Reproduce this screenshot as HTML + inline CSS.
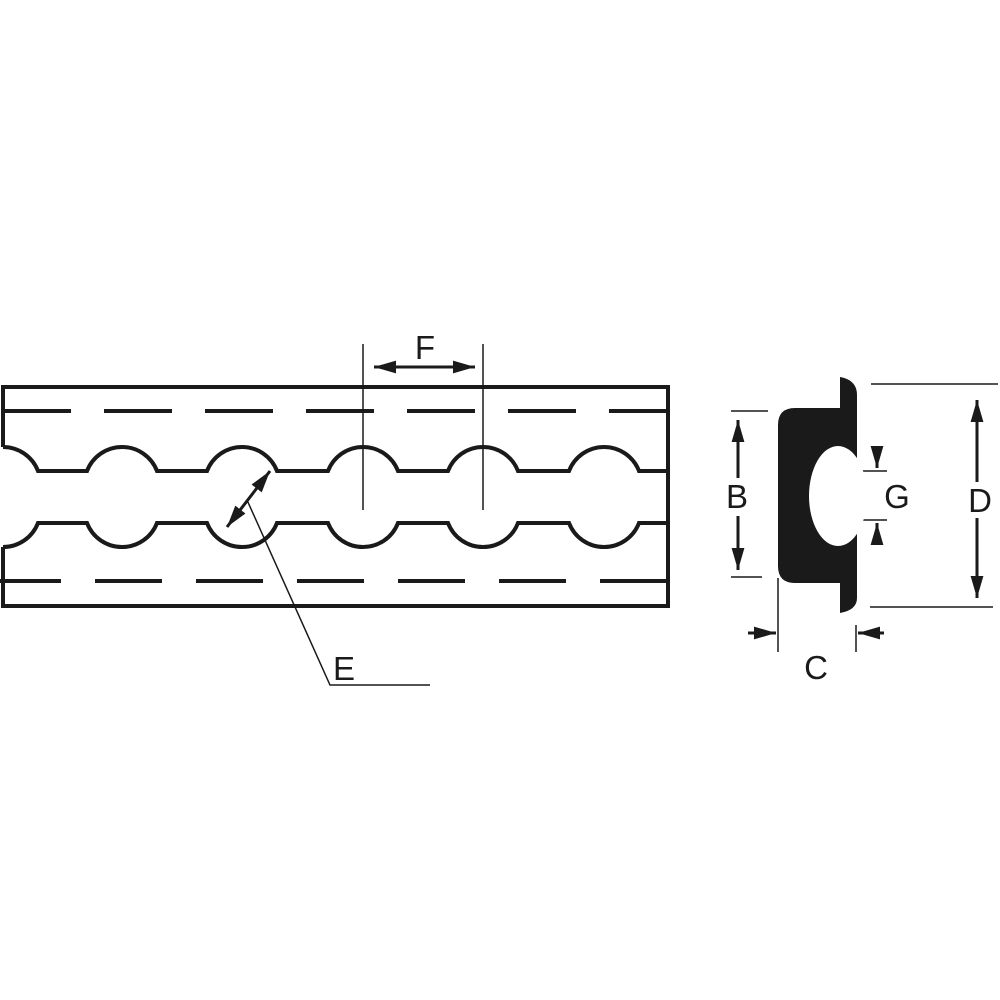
<!DOCTYPE html>
<html><head><style>body{margin:0;background:#fff}svg{display:block}</style></head><body>
<svg width="1000" height="1000" viewBox="0 0 1000 1000" xmlns="http://www.w3.org/2000/svg">
<defs>
<marker id="a" viewBox="0 0 24 14" refX="24" refY="7" markerWidth="22" markerHeight="13" orient="auto-start-reverse" markerUnits="userSpaceOnUse"><path d="M0,0 L24,7 L0,14 z" fill="#1a1a1a"/></marker>
<marker id="s" viewBox="0 0 24 14" refX="24" refY="7" markerWidth="22" markerHeight="15" orient="auto-start-reverse" markerUnits="userSpaceOnUse"><path d="M0,0 L24,7 L0,14 z" fill="#1a1a1a"/></marker>
</defs>
<g fill="none" stroke="#1a1a1a" stroke-width="4">
<path d="M3,447 V387 H668 V606 H3 V547"/>
<path d="M3,447 A37.5,37.5 0 0 1 38,471 H87 A37.5,37.5 0 0 1 157,471 H207 A37.5,37.5 0 0 1 277,471 H328 A37.5,37.5 0 0 1 398,471 H448 A37.5,37.5 0 0 1 518,471 H569 A37.5,37.5 0 0 1 639,471 H668"/>
<path d="M3,523 A37.5,37.5 0 0 0 38,499 H87 A37.5,37.5 0 0 0 157,499 H207 A37.5,37.5 0 0 0 277,499 H328 A37.5,37.5 0 0 0 398,499 H448 A37.5,37.5 0 0 0 518,499 H569 A37.5,37.5 0 0 0 639,499 H668" transform="translate(0,24)"/>
<path d="M3,411 H668" stroke-dasharray="68 33"/>
<path d="M-6,581 H668" stroke-dasharray="67 34"/>
</g>
<g stroke="#1a1a1a" stroke-width="1.5" fill="none">
<path d="M363,344 V510 M483,344 V510"/>
<path d="M247,500 L330,685 H430"/>
<path d="M731,411 H768 M731,577 H762 M871,384 H998 M870,607 H993 M859,471 H887 M859,520 H887 M778,578 V652 M856,625 V652"/>
</g>
<g stroke="#1a1a1a" stroke-width="3" fill="none">
<path d="M374,367 H475" marker-start="url(#a)" marker-end="url(#a)"/>
<path d="M227,527 L270,471" marker-start="url(#a)" marker-end="url(#a)"/>
<path d="M738,420 V478" marker-start="url(#a)"/>
<path d="M738,516 V570" marker-end="url(#a)"/>
<path d="M977,400 V482" marker-start="url(#a)"/>
<path d="M977,518 V598" marker-end="url(#a)"/>
<path d="M877,446 V468" marker-end="url(#s)"/>
<path d="M877,545 V523" marker-end="url(#s)"/>
<path d="M748,633 H776" marker-end="url(#s)"/>
<path d="M884,633 H858" marker-end="url(#s)"/>
</g>
<path d="M840,377 Q857,380 857,395 V470 H840 V522 H857 V598 Q857,610 840,613 V583 H795 Q778,583 778,566 V425 Q778,408 795,408 H840 Z" fill="#1a1a1a"/>
<ellipse cx="838" cy="496" rx="29" ry="50" fill="#fff"/>
<rect x="836" y="470" width="25" height="52" fill="#fff"/>
<g font-family="Liberation Sans, sans-serif" font-size="33" fill="#1a1a1a" text-anchor="middle">
<text x="425" y="359">F</text>
<text x="344" y="680">E</text>
<text x="737" y="508">B</text>
<text x="980" y="512">D</text>
<text x="897" y="508">G</text>
<text x="816" y="679">C</text>
</g>
</svg>
</body></html>
